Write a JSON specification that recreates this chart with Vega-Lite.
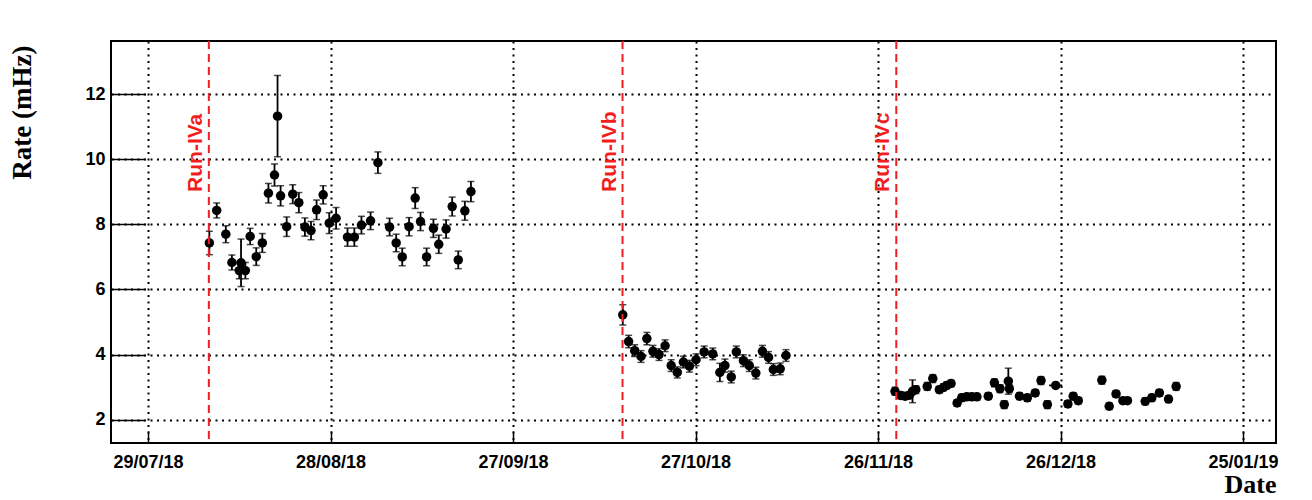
{
  "$schema": "https://vega.github.io/schema/vega-lite/v6.json",
  "width": 1165,
  "height": 402,
  "autosize": {"type": "none"},
  "padding": {"left": 111, "top": 41, "right": 36, "bottom": 57},
  "background": "white",
  "config": {"view": {"stroke": "black", "strokeWidth": 2}, "font": "Liberation Sans"},
  "datasets": {
    "rates": [
      {"d": "2018-08-08T02:00:00Z", "r": 7.43, "e": 0.36},
      {"d": "2018-08-09T07:00:00Z", "r": 8.43, "e": 0.23},
      {"d": "2018-08-10T19:00:00Z", "r": 7.70, "e": 0.26},
      {"d": "2018-08-11T19:00:00Z", "r": 6.83, "e": 0.23},
      {"d": "2018-08-13T00:00:00Z", "r": 6.58, "e": 0.25},
      {"d": "2018-08-13T07:00:00Z", "r": 6.82, "e": 0.73},
      {"d": "2018-08-14T00:00:00Z", "r": 6.58, "e": 0.25},
      {"d": "2018-08-14T19:00:00Z", "r": 7.63, "e": 0.25},
      {"d": "2018-08-15T19:00:00Z", "r": 7.01, "e": 0.27},
      {"d": "2018-08-16T19:00:00Z", "r": 7.43, "e": 0.29},
      {"d": "2018-08-17T19:00:00Z", "r": 8.96, "e": 0.30},
      {"d": "2018-08-18T19:00:00Z", "r": 9.52, "e": 0.34},
      {"d": "2018-08-19T07:00:00Z", "r": 11.33, "e": 1.25},
      {"d": "2018-08-19T19:00:00Z", "r": 8.88, "e": 0.31},
      {"d": "2018-08-20T19:00:00Z", "r": 7.93, "e": 0.30},
      {"d": "2018-08-21T19:00:00Z", "r": 8.93, "e": 0.29},
      {"d": "2018-08-22T19:00:00Z", "r": 8.67, "e": 0.31},
      {"d": "2018-08-23T19:00:00Z", "r": 7.92, "e": 0.28},
      {"d": "2018-08-24T19:00:00Z", "r": 7.81, "e": 0.28},
      {"d": "2018-08-25T17:00:00Z", "r": 8.45, "e": 0.30},
      {"d": "2018-08-26T19:00:00Z", "r": 8.91, "e": 0.28},
      {"d": "2018-08-27T19:00:00Z", "r": 8.04, "e": 0.32},
      {"d": "2018-08-28T22:00:00Z", "r": 8.19, "e": 0.33},
      {"d": "2018-08-30T19:00:00Z", "r": 7.61, "e": 0.28},
      {"d": "2018-08-31T22:00:00Z", "r": 7.61, "e": 0.28},
      {"d": "2018-09-02T02:00:00Z", "r": 7.98, "e": 0.27},
      {"d": "2018-09-03T14:00:00Z", "r": 8.11, "e": 0.27},
      {"d": "2018-09-04T19:00:00Z", "r": 9.90, "e": 0.33},
      {"d": "2018-09-06T17:00:00Z", "r": 7.92, "e": 0.27},
      {"d": "2018-09-07T19:00:00Z", "r": 7.43, "e": 0.27},
      {"d": "2018-09-08T19:00:00Z", "r": 7.00, "e": 0.27},
      {"d": "2018-09-09T22:00:00Z", "r": 7.93, "e": 0.28},
      {"d": "2018-09-10T22:00:00Z", "r": 8.81, "e": 0.32},
      {"d": "2018-09-11T19:00:00Z", "r": 8.09, "e": 0.28},
      {"d": "2018-09-12T19:00:00Z", "r": 7.00, "e": 0.27},
      {"d": "2018-09-13T22:00:00Z", "r": 7.88, "e": 0.28},
      {"d": "2018-09-14T19:00:00Z", "r": 7.39, "e": 0.28},
      {"d": "2018-09-16T00:00:00Z", "r": 7.86, "e": 0.28},
      {"d": "2018-09-17T00:00:00Z", "r": 8.55, "e": 0.29},
      {"d": "2018-09-18T00:00:00Z", "r": 6.91, "e": 0.27},
      {"d": "2018-09-19T02:00:00Z", "r": 8.42, "e": 0.29},
      {"d": "2018-09-20T02:00:00Z", "r": 9.01, "e": 0.31},
      {"d": "2018-10-15T01:00:00Z", "r": 5.22, "e": 0.31},
      {"d": "2018-10-16T00:00:00Z", "r": 4.40, "e": 0.19},
      {"d": "2018-10-17T00:00:00Z", "r": 4.12, "e": 0.18},
      {"d": "2018-10-18T01:00:00Z", "r": 3.94, "e": 0.18},
      {"d": "2018-10-19T00:00:00Z", "r": 4.49, "e": 0.19},
      {"d": "2018-10-20T00:00:00Z", "r": 4.10, "e": 0.18},
      {"d": "2018-10-21T00:00:00Z", "r": 4.00, "e": 0.18},
      {"d": "2018-10-22T00:00:00Z", "r": 4.27, "e": 0.18},
      {"d": "2018-10-23T00:00:00Z", "r": 3.66, "e": 0.18},
      {"d": "2018-10-24T00:00:00Z", "r": 3.45, "e": 0.17},
      {"d": "2018-10-25T00:00:00Z", "r": 3.77, "e": 0.18},
      {"d": "2018-10-26T00:00:00Z", "r": 3.64, "e": 0.18},
      {"d": "2018-10-27T02:00:00Z", "r": 3.84, "e": 0.18},
      {"d": "2018-10-28T10:00:00Z", "r": 4.08, "e": 0.18},
      {"d": "2018-10-29T20:00:00Z", "r": 4.02, "e": 0.18},
      {"d": "2018-10-31T00:00:00Z", "r": 3.45, "e": 0.28},
      {"d": "2018-10-31T20:00:00Z", "r": 3.66, "e": 0.20},
      {"d": "2018-11-01T21:00:00Z", "r": 3.31, "e": 0.18},
      {"d": "2018-11-02T17:00:00Z", "r": 4.08, "e": 0.18},
      {"d": "2018-11-03T21:00:00Z", "r": 3.81, "e": 0.18},
      {"d": "2018-11-04T20:00:00Z", "r": 3.66, "e": 0.18},
      {"d": "2018-11-05T22:00:00Z", "r": 3.43, "e": 0.18},
      {"d": "2018-11-07T00:00:00Z", "r": 4.10, "e": 0.18},
      {"d": "2018-11-08T00:00:00Z", "r": 3.91, "e": 0.18},
      {"d": "2018-11-08T19:00:00Z", "r": 3.54, "e": 0.18},
      {"d": "2018-11-09T22:00:00Z", "r": 3.56, "e": 0.18},
      {"d": "2018-11-10T21:00:00Z", "r": 3.97, "e": 0.18},
      {"d": "2018-11-28T19:00:00Z", "r": 2.87, "e": 0.12},
      {"d": "2018-11-29T18:00:00Z", "r": 2.74, "e": 0.10},
      {"d": "2018-11-30T11:00:00Z", "r": 2.72, "e": 0.10},
      {"d": "2018-12-01T04:00:00Z", "r": 2.75, "e": 0.10},
      {"d": "2018-12-01T16:00:00Z", "r": 2.87, "e": 0.35},
      {"d": "2018-12-02T05:00:00Z", "r": 2.92, "e": 0.12},
      {"d": "2018-12-04T02:00:00Z", "r": 3.02, "e": 0.12},
      {"d": "2018-12-05T00:00:00Z", "r": 3.26, "e": 0.12},
      {"d": "2018-12-06T02:00:00Z", "r": 2.92, "e": 0.10},
      {"d": "2018-12-06T18:00:00Z", "r": 2.99, "e": 0.10},
      {"d": "2018-12-07T07:00:00Z", "r": 3.05, "e": 0.10},
      {"d": "2018-12-08T00:00:00Z", "r": 3.11, "e": 0.10},
      {"d": "2018-12-09T00:00:00Z", "r": 2.51, "e": 0.10},
      {"d": "2018-12-09T18:00:00Z", "r": 2.67, "e": 0.10},
      {"d": "2018-12-10T14:00:00Z", "r": 2.70, "e": 0.10},
      {"d": "2018-12-11T10:00:00Z", "r": 2.70, "e": 0.10},
      {"d": "2018-12-12T06:00:00Z", "r": 2.70, "e": 0.10},
      {"d": "2018-12-14T03:00:00Z", "r": 2.72, "e": 0.10},
      {"d": "2018-12-15T03:00:00Z", "r": 3.13, "e": 0.12},
      {"d": "2018-12-16T01:00:00Z", "r": 2.95, "e": 0.12},
      {"d": "2018-12-16T18:00:00Z", "r": 2.46, "e": 0.12},
      {"d": "2018-12-17T10:00:00Z", "r": 3.18, "e": 0.40},
      {"d": "2018-12-17T14:00:00Z", "r": 2.95, "e": 0.12},
      {"d": "2018-12-19T06:00:00Z", "r": 2.72, "e": 0.10},
      {"d": "2018-12-20T13:00:00Z", "r": 2.67, "e": 0.10},
      {"d": "2018-12-21T20:00:00Z", "r": 2.82, "e": 0.10},
      {"d": "2018-12-22T19:00:00Z", "r": 3.20, "e": 0.12},
      {"d": "2018-12-23T20:00:00Z", "r": 2.46, "e": 0.12},
      {"d": "2018-12-25T05:00:00Z", "r": 3.05, "e": 0.05},
      {"d": "2018-12-27T05:00:00Z", "r": 2.48, "e": 0.10},
      {"d": "2018-12-28T02:00:00Z", "r": 2.72, "e": 0.10},
      {"d": "2018-12-28T22:00:00Z", "r": 2.58, "e": 0.10},
      {"d": "2019-01-01T19:00:00Z", "r": 3.21, "e": 0.12},
      {"d": "2019-01-03T00:00:00Z", "r": 2.41, "e": 0.10},
      {"d": "2019-01-04T03:00:00Z", "r": 2.79, "e": 0.10},
      {"d": "2019-01-05T06:00:00Z", "r": 2.58, "e": 0.08},
      {"d": "2019-01-06T00:00:00Z", "r": 2.58, "e": 0.08},
      {"d": "2019-01-08T22:00:00Z", "r": 2.56, "e": 0.10},
      {"d": "2019-01-10T00:00:00Z", "r": 2.67, "e": 0.10},
      {"d": "2019-01-11T06:00:00Z", "r": 2.82, "e": 0.10},
      {"d": "2019-01-12T18:00:00Z", "r": 2.63, "e": 0.10},
      {"d": "2019-01-14T00:00:00Z", "r": 3.02, "e": 0.12}
    ],
    "xerrs": [
      {"lo": "2018-08-08T15:00:00Z", "hi": "2018-08-09T23:00:00Z", "r": 8.43},
      {"lo": "2018-12-24T03:00:00Z", "hi": "2018-12-26T07:00:00Z", "r": 3.05}
    ],
    "runs": [
      {"d": "2018-08-08T00:00:00Z", "label": "Run-IVa"},
      {"d": "2018-10-15T00:00:00Z", "label": "Run-IVb"},
      {"d": "2018-11-29T00:00:00Z", "label": "Run-IVc"}
    ]
  },
  "layer": [
    {
      "data": {"name": "rates"},
      "mark": {"type": "point", "filled": true, "color": "black", "opacity": 1, "size": 90},
      "encoding": {
        "x": {
          "field": "d", "type": "temporal", "title": "Date",
          "scale": {"type": "utc", "domain": [{"year": 2018, "month": 7, "date": 22, "hours": 22, "utc": true}, {"year": 2019, "month": 1, "date": 30, "hours": 10, "utc": true}]},
          "axis": {
            "values": [
              {"year": 2018, "month": 7, "date": 29, "utc": true},
              {"year": 2018, "month": 8, "date": 28, "utc": true},
              {"year": 2018, "month": 9, "date": 27, "utc": true},
              {"year": 2018, "month": 10, "date": 27, "utc": true},
              {"year": 2018, "month": 11, "date": 26, "utc": true},
              {"year": 2018, "month": 12, "date": 26, "utc": true},
              {"year": 2019, "month": 1, "date": 25, "utc": true}
            ],
            "format": "%d/%m/%y",
            "title": "Date",
            "titleFont": "Liberation Serif", "titleFontSize": 26, "titleFontWeight": "bold", "titleColor": "black",
            "titleAnchor": "end", "titleAlign": "right", "titleBaseline": "alphabetic", "titleX": 1165, "titleY": 49,
            "labelFont": "Liberation Sans", "labelFontSize": 18, "labelFontWeight": "bold", "labelColor": "black",
            "labelPadding": 22, "labelFlush": false, "labelOverlap": false,
            "tickSize": -12, "tickColor": "black", "tickWidth": 1.5,
            "domain": false,
            "grid": true, "gridColor": "#000", "gridDash": [2, 4.5], "gridWidth": 2
          }
        },
        "y": {
          "field": "r", "type": "quantitative", "title": "Rate (mHz)",
          "scale": {"domain": [1.28, 13.64], "nice": false, "zero": false},
          "axis": {
            "values": [2, 3, 4, 5, 6, 7, 8, 9, 10, 11, 12, 13],
            "labelExpr": "datum.value % 2 === 0 ? datum.label : ''",
            "title": "Rate (mHz)",
            "titleFont": "Liberation Serif", "titleFontSize": 27, "titleFontWeight": "bold", "titleColor": "black",
            "titleAngle": 270, "titleAlign": "right", "titleBaseline": "middle", "titleX": -89, "titleY": 4,
            "labelFont": "Liberation Sans", "labelFontSize": 18, "labelFontWeight": "bold", "labelColor": "black",
            "labelPadding": 40, "labelOverlap": false,
            "tickSize": {"condition": {"test": "datum.value % 2 === 1", "value": -17}, "value": -34},
            "tickColor": "black", "tickWidth": 1.5,
            "domain": false,
            "grid": true, "gridColor": "#000", "gridDash": [2, 4.5], "gridWidth": 2,
            "gridOpacity": {"condition": {"test": "datum.value % 2 === 1", "value": 0}, "value": 1}
          }
        }
      }
    },
    {
      "data": {"name": "rates"},
      "mark": {"type": "errorbar", "color": "black", "thickness": 1.8, "ticks": {"size": 7, "color": "black", "thickness": 1.5}},
      "encoding": {
        "x": {"field": "d", "type": "temporal", "title": "Date"},
        "y": {"field": "r", "type": "quantitative", "title": "Rate (mHz)"},
        "yError": {"field": "e"}
      }
    },
    {
      "data": {"name": "xerrs"},
      "mark": {"type": "rule", "color": "black", "strokeWidth": 1.8},
      "encoding": {
        "x": {"field": "lo", "type": "temporal", "title": "Date"},
        "x2": {"field": "hi"},
        "y": {"field": "r", "type": "quantitative", "title": "Rate (mHz)"}
      }
    },
    {
      "data": {"name": "runs"},
      "mark": {"type": "rule", "color": "#f21d1d", "strokeWidth": 2, "strokeDash": [8, 5]},
      "encoding": {
        "x": {"field": "d", "type": "temporal", "title": "Date"}
      }
    },
    {
      "data": {"name": "runs"},
      "mark": {"type": "text", "angle": 270, "align": "left", "baseline": "alphabetic", "dy": -7, "color": "#f21d1d", "font": "Liberation Sans", "fontWeight": "bold", "fontSize": 21},
      "encoding": {
        "x": {"field": "d", "type": "temporal", "title": "Date"},
        "y": {"datum": 9.0, "type": "quantitative", "title": "Rate (mHz)"},
        "text": {"field": "label"}
      }
    }
  ]
}
